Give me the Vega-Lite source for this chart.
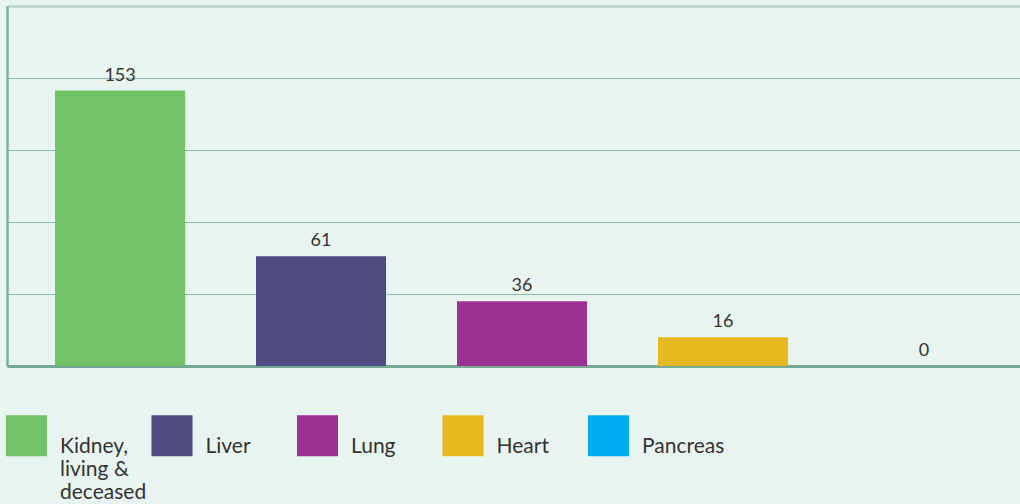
{
  "$schema": "https://vega.github.io/schema/vega-lite/v6.json",
  "width": 1013,
  "height": 360,
  "autosize": {"type": "none"},
  "padding": {"left": 7, "top": 6, "right": 0, "bottom": 138},
  "background": "#e8f4f0",
  "config": {
    "view": {"stroke": null},
    "font": "Lato"
  },
  "data": {
    "values": [
      {"organ": "Kidney, living & deceased", "count": 153},
      {"organ": "Liver", "count": 61},
      {"organ": "Lung", "count": 36},
      {"organ": "Heart", "count": 16},
      {"organ": "Pancreas", "count": 0}
    ]
  },
  "encoding": {
    "x": {
      "field": "organ",
      "type": "nominal",
      "sort": null,
      "scale": {"paddingInner": 0.353, "paddingOuter": 0.1965, "align": 0.608},
      "axis": {"title": null, "labels": false, "ticks": false, "domain": true, "domainColor": "#76a897", "domainWidth": 3, "grid": false}
    },
    "y": {
      "field": "count",
      "type": "quantitative",
      "scale": {"domain": [0, 200]},
      "axis": {
        "title": null, "labels": false, "ticks": false,
        "values": [0, 40, 80, 120, 160, 200],
        "domain": true, "domainColor": "#7dae9d", "domainWidth": 2.5,
        "grid": true,
        "gridColor": {"condition": {"test": "datum.value == 200", "value": "#a9cdc1"}, "value": "#8fbbac"},
        "gridWidth": {"condition": {"test": "datum.value == 200", "value": 2}, "value": 1.2},
        "gridOpacity": 1
      }
    }
  },
  "layer": [
    {
      "mark": {"type": "bar"},
      "encoding": {
        "color": {
          "field": "organ",
          "type": "nominal",
          "sort": null,
          "scale": {
            "domain": ["Kidney, living & deceased", "Liver", "Lung", "Heart", "Pancreas"],
            "range": ["#72c267", "#4f4c82", "#9b3294", "#e8b820", "#00aeef"]
          },
          "legend": {
            "title": null,
            "orient": "none",
            "legendX": -1,
            "legendY": 409,
            "direction": "horizontal",
            "columns": 5,
            "gridAlign": "all",
            "columnPadding": 4.5,
            "symbolType": "square",
            "symbolSize": 1681,
            "symbolStrokeWidth": 0,
            "symbolOpacity": 1,
            "labelFont": "Lato",
            "labelFontSize": 21,
            "labelColor": "#333333",
            "labelOffset": 13,
            "labelLimit": 0,
            "labelBaseline": "top",
            "labelExpr": "datum.label == 'Kidney, living & deceased' ? ['Kidney,', 'living &', 'deceased'] : [datum.label, '', '']"
          }
        }
      }
    },
    {
      "mark": {"type": "text", "baseline": "alphabetic", "dy": -10, "fontSize": 18, "font": "Lato", "color": "#333333"},
      "encoding": {
        "text": {"field": "count", "type": "quantitative"}
      }
    }
  ]
}
